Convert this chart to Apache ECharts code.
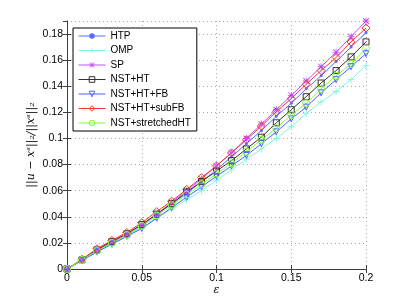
<!DOCTYPE html>
<html><head><meta charset="utf-8">
<script src="https://cdn.jsdelivr.net/npm/echarts@6/dist/echarts.min.js"></script>
<style>html,body{margin:0;padding:0;background:#fff}#c{width:403px;height:303px}</style>
</head><body><div id="c"></div>
<script>
var eps = [0,0.01,0.02,0.03,0.04,0.05,0.06,0.07,0.08,0.09,0.1,0.11,0.12,0.13,0.14,0.15,0.16,0.17,0.18,0.19,0.2];
var HTP = [0,0.007,0.014,0.020,0.026,0.033,0.042,0.050,0.058,0.067,0.076,0.086,0.096,0.106,0.117,0.127,0.138,0.148,0.159,0.170,0.181];
var OMP = [0,0.0065,0.013,0.019,0.025,0.032,0.039,0.046,0.053,0.060,0.068,0.076,0.084,0.092,0.100,0.109,0.119,0.128,0.136,0.145,0.156];
var SP = [0,0.007,0.015,0.021,0.027,0.034,0.042,0.051,0.060,0.069,0.079,0.089,0.100,0.111,0.122,0.133,0.144,0.155,0.166,0.178,0.190];
var NST_HT = [0,0.007,0.0145,0.021,0.027,0.034,0.042,0.050,0.059,0.067,0.075,0.083,0.092,0.101,0.112,0.122,0.132,0.1425,0.152,0.1625,0.174];
var NST_HT_FB = [0,0.0065,0.013,0.019,0.025,0.031,0.039,0.047,0.055,0.063,0.071,0.079,0.087,0.096,0.105,0.115,0.124,0.135,0.145,0.155,0.165];
var NST_HT_subFB = [0,0.0075,0.0155,0.022,0.028,0.0355,0.044,0.052,0.061,0.070,0.079,0.089,0.099,0.1095,0.1205,0.1305,0.1415,0.152,0.162,0.174,0.1846];
var NST_sHT = [0,0.007,0.014,0.020,0.026,0.033,0.041,0.049,0.057,0.065,0.073,0.081,0.090,0.099,0.108,0.118,0.127,0.138,0.148,0.157,0.169];
var names = ['HTP','OMP','SP','NST+HT','NST+HT+FB','NST+HT+subFB','NST+stretchedHT'];
var xTicks = ['0','0.05','0.1','0.15','0.2'];
var yTicks = ['0','0.02','0.04','0.06','0.08','0.1','0.12','0.14','0.16','0.18'];

var plusPath = 'path://M4.4,0H5.6V10H4.4ZM0,4.4H10V5.6H0Z';
var starPath = 'path://M4.4,0H5.6V10H4.4ZM0,4.4H10V5.6H0ZM0.4,1.3L1.3,0.4L9.6,8.7L8.7,9.6ZM8.7,0.4L9.6,1.3L1.3,9.6L0.4,8.7Z';
var tr = 'rgba(0,0,0,0)';
function pairs(v){ return eps.map(function(e,i){ return [e, v[i]]; }); }
var legendData = [];
function mk(name, data, color, symbol, size, hollow, rot){
  var is = hollow ? {color: tr, borderColor: color, borderWidth: 1} : {color: color, borderWidth: 0};
  legendData.push({name: name, itemStyle: is, lineStyle: {color: color, width: 1}});
  return {
    name: name, type: 'line', data: pairs(data), symbol: symbol, symbolSize: size,
    symbolRotate: rot || 0, showAllSymbol: true, animation: false, color: color,
    lineStyle: {color: color, width: 1},
    itemStyle: is,
    emphasis: {disabled: true}
  };
}
var series = [
  mk(names[0], HTP, '#5a6cff', 'circle', 3, false),
  mk(names[1], OMP, '#7ff5e0', plusPath, 7, false),
  mk(names[2], SP, '#c050ff', starPath, 7, false),
  mk(names[3], NST_HT, '#333333', 'rect', 6, true),
  mk(names[4], NST_HT_FB, '#4a60ff', 'triangle', 6, true, 180),
  mk(names[5], NST_HT_subFB, '#ff3030', 'diamond', 8, true),
  mk(names[6], NST_sHT, '#80ff40', 'circle', 7, true)
];
var axisCol = '#404040';
var font = 'Liberation Sans, Arial, sans-serif';
var chart = echarts.init(document.getElementById('c'), null, {renderer: 'canvas'});
chart.setOption({
  animation: false,
  backgroundColor: '#fff',
  grid: {left: 67, right: 37, top: 21, bottom: 34},
  legend: {
    data: legendData, orient: 'vertical', left: 73, top: 28,
    padding: [3, 6, 3, 5], itemWidth: 27, itemHeight: 7, itemGap: 4.5,
    borderColor: '#000', borderWidth: 1, backgroundColor: '#fff',
    lineStyle: {width: 1}, itemStyle: {borderWidth: 1},
    textStyle: {fontFamily: font, fontSize: 10, color: '#000'}
  },
  xAxis: [{
    type: 'value', min: 0, max: 0.2, interval: 0.05,
    name: 'ε', nameLocation: 'middle', nameGap: 16, nameMoveOverlap: false,
    nameTextStyle: {fontFamily: 'DejaVu Serif, serif', fontStyle: 'italic', fontSize: 11, color: '#000'},
    axisLine: {lineStyle: {color: axisCol, width: 1}},
    axisTick: {inside: true, length: 4, lineStyle: {color: axisCol}},
    axisLabel: {fontFamily: font, fontSize: 10.5, color: '#000', margin: 4,
      formatter: function(v){ var i = Math.round(v/0.05); return xTicks[i] !== undefined ? xTicks[i] : ''; }},
    splitLine: {show: true, lineStyle: {color: '#a8a8a8', type: [1, 3], width: 1}}
  }, {
    type: 'value', min: 0, max: 0.2, interval: 0.05, position: 'top',
    axisLine: {show: true, lineStyle: {color: axisCol, width: 1}},
    axisTick: {inside: true, length: 4, lineStyle: {color: axisCol}},
    axisLabel: {show: false}, splitLine: {show: false}
  }],
  yAxis: [{
    type: 'value', min: 0, max: 0.19, interval: 0.02,
    name: '||u − xˢ||₂/||xˢ||₂', nameLocation: 'middle', nameGap: 30, nameMoveOverlap: false,
    nameTextStyle: {fontFamily: 'DejaVu Serif, serif', fontStyle: 'italic', fontSize: 11, color: '#000'},
    axisLine: {lineStyle: {color: axisCol, width: 1}},
    axisTick: {inside: true, length: 4, lineStyle: {color: axisCol}},
    axisLabel: {fontFamily: font, fontSize: 10.5, color: '#000', margin: 4, showMaxLabel: false,
      formatter: function(v){ var i = Math.round(v/0.02); return (Math.abs(v - i*0.02) < 1e-9 && yTicks[i] !== undefined) ? yTicks[i] : ''; }},
    splitLine: {show: true, lineStyle: {color: '#a8a8a8', type: [1, 3], width: 1}}
  }, {
    type: 'value', min: 0, max: 0.19, interval: 0.02, position: 'right',
    axisLine: {show: true, lineStyle: {color: axisCol, width: 1}},
    axisTick: {inside: true, length: 4, lineStyle: {color: axisCol}},
    axisLabel: {show: false}, splitLine: {show: false}
  }],
  series: series
});
</script></body></html>
